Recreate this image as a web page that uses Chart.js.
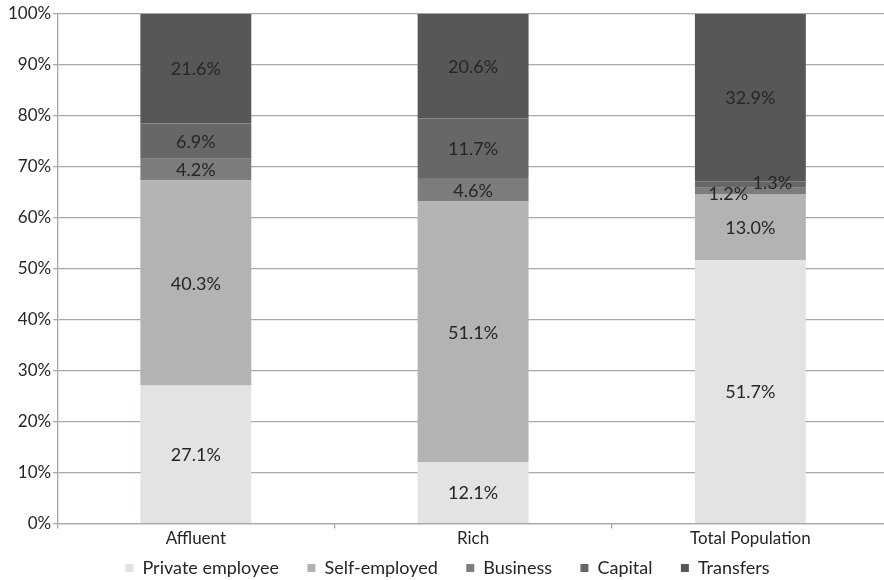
<!DOCTYPE html>
<html lang="en">
<head>
    <meta charset="UTF-8">
    <title>Income sources</title>
    <script src="https://cdn.jsdelivr.net/npm/chart.js"></script>
    <style>
        html, body { margin: 0; padding: 0; background: #fff; overflow: hidden; }
        .chart-container { width: 889px; height: 580px; }
    </style>
</head>
<body>
    <div class="chart-container">
        <canvas id="incomeChart"></canvas>
    </div>

    <script>
        const categories = ['Affluent', 'Rich', 'Total Population'];
        const seriesNames = ['Private employee', 'Self-employed', 'Business', 'Capital', 'Transfers'];
        const privateEmployee = [27.1, 12.1, 51.7];
        const selfEmployed = [40.3, 51.1, 13.0];
        const business = [4.2, 4.6, 1.2];
        const capital = [6.9, 11.7, 1.3];
        const transfers = [21.6, 20.6, 32.9];
        const yTicks = [0, 10, 20, 30, 40, 50, 60, 70, 80, 90, 100];

        const colors = ['#e2e3e3', '#b2b3b2', '#7c7c7c', '#676767', '#575757'];
        const fontFamily = 'Lato, "Open Sans", sans-serif';
        const textColor = '#262626';
        const gridColor = '#a8a8a8';

        const seriesData = [privateEmployee, selfEmployed, business, capital, transfers];

        // value labels in the middle of each segment, tiny ones pushed aside
        const segmentLabels = {
            id: 'segmentLabels',
            afterDatasetsDraw(chart) {
                const c = chart.ctx;
                c.save();
                c.font = '18px ' + fontFamily;
                c.fillStyle = textColor;
                c.textAlign = 'center';
                c.textBaseline = 'middle';
                chart.data.datasets.forEach((ds, i) => {
                    const meta = chart.getDatasetMeta(i);
                    meta.data.forEach((bar, j) => {
                        const v = ds.data[j];
                        let x = bar.x;
                        let y = (bar.y + bar.base) / 2;
                        if (v < 2) {
                            x += (i % 2 === 0) ? -22 : 22;
                            y += (i % 2 === 0) ? 2 : -2;
                        }
                        c.fillText(v.toFixed(1) + '%', x, y + 1);
                    });
                });
                c.restore();
            }
        };

        const ctx = document.getElementById('incomeChart').getContext('2d');
        new Chart(ctx, {
            type: 'bar',
            data: {
                labels: categories,
                datasets: seriesNames.map((name, i) => ({
                    label: name,
                    data: seriesData[i],
                    backgroundColor: colors[i],
                    borderWidth: 0,
                    barPercentage: 0.4,
                    categoryPercentage: 1.0
                }))
            },
            options: {
                responsive: true,
                maintainAspectRatio: false,
                animation: false,
                layout: { padding: { top: 14, right: 0, left: 6, bottom: -7 } },
                plugins: {
                    tooltip: { enabled: false },
                    legend: {
                        position: 'bottom',
                        labels: {
                            boxWidth: 8,
                            boxHeight: 8,
                            padding: 10,
                            color: textColor,
                            font: { family: fontFamily, size: 18 },
                            // wider gaps between items without adding vertical space
                            generateLabels(chart) {
                                const items = Chart.defaults.plugins.legend.labels.generateLabels(chart);
                                items.forEach((it, i) => {
                                    if (i < items.length - 1) it.text += '    ';
                                });
                                return items;
                            }
                        }
                    }
                },
                scales: {
                    x: {
                        stacked: true,
                        grid: {
                            offset: true,
                            drawOnChartArea: false,
                            color: gridColor,
                            lineWidth: 1.3,
                            tickLength: 5
                        },
                        border: { color: gridColor, width: 1.3 },
                        ticks: {
                            color: textColor,
                            padding: 0,
                            font: { family: fontFamily, size: 17 }
                        }
                    },
                    y: {
                        stacked: true,
                        min: 0,
                        max: 100,
                        afterBuildTicks(axis) {
                            axis.ticks = yTicks.map(v => ({ value: v }));
                        },
                        grid: {
                            color: gridColor,
                            lineWidth: 1.3,
                            tickLength: 4
                        },
                        border: { color: gridColor, width: 1.3 },
                        ticks: {
                            color: textColor,
                            padding: 2,
                            font: { family: fontFamily, size: 17 },
                            callback: v => v + '%'
                        }
                    }
                }
            },
            plugins: [segmentLabels]
        });
    </script>
</body>
</html>
